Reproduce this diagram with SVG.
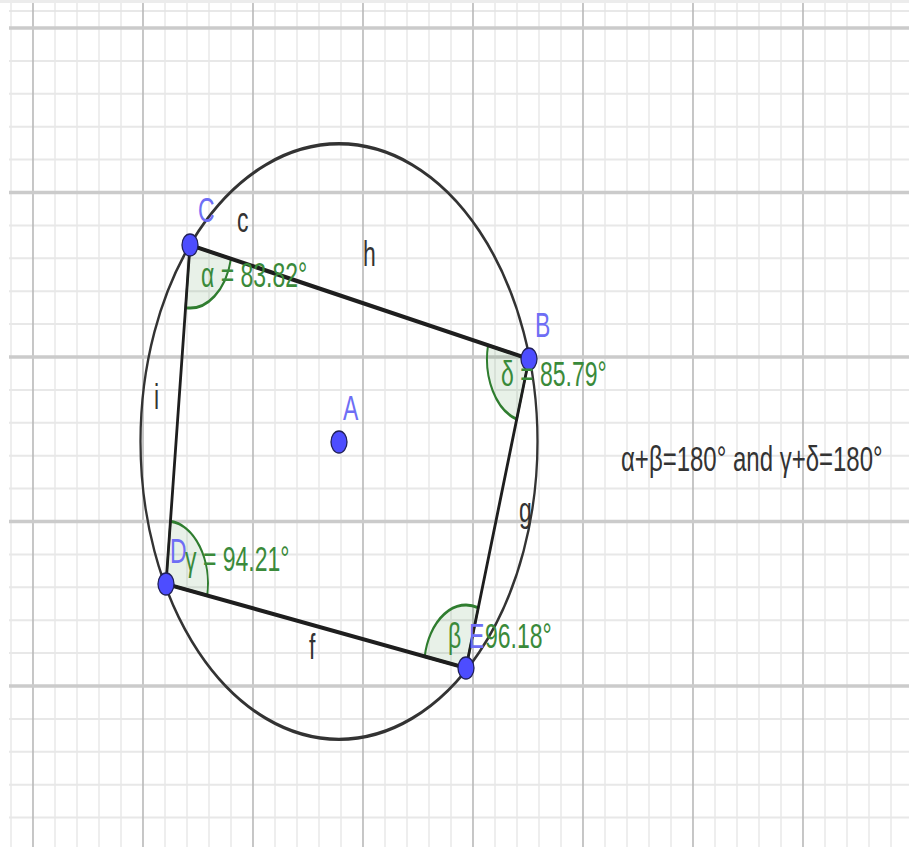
<svg xmlns="http://www.w3.org/2000/svg" width="909" height="847" viewBox="0 0 909 847">
<defs>
<style>
.minv{stroke:#e3e3e3;stroke-width:1.2;fill:none}
.minh{stroke:#e8e8e8;stroke-width:2;fill:none}
.majv{stroke:#b9b9b9;stroke-width:1.6;fill:none}
.majh{stroke:#cbcbcb;stroke-width:3.5;fill:none}
.seg{stroke:#1e1e1e;stroke-width:2.8;fill:none;stroke-linecap:round}
.circ{stroke:#333333;stroke-width:2.3;fill:none}
.sector{fill:#006400;fill-opacity:0.09;stroke:#2f7d2f;stroke-width:2}
.pt{fill:#4d4dff;stroke:#20205a;stroke-width:1.3}
.t{font-family:"Liberation Sans",Arial,sans-serif;font-size:23px}
.big{font-size:24px}
.plab{fill:#6e6ef5}
.slab{fill:#333333}
.alab{fill:#3a8a3a}
.note{fill:#333333}
</style>
</defs>
<rect width="909" height="847" fill="#ffffff"/>
<rect width="909" height="3" fill="#ececec"/>
<g id="grid">
<path class="minh" d="M9 11H909"/>
<path class="minv" d="M11 3V847M55 3V847M77 3V847M99 3V847M121 3V847M165 3V847M187 3V847M209 3V847M231 3V847M275 3V847M297 3V847M319 3V847M341 3V847M385 3V847M407 3V847M429 3V847M451 3V847M495 3V847M517 3V847M539 3V847M561 3V847M605 3V847M627 3V847M649 3V847M671 3V847M715 3V847M737 3V847M759 3V847M781 3V847M825 3V847M847 3V847M869 3V847M891 3V847"/>
<path class="minh" d="M9 60.9H909M9 93.8H909M9 126.7H909M9 159.6H909M9 225.4H909M9 258.3H909M9 291.2H909M9 324.1H909M9 389.9H909M9 422.8H909M9 455.7H909M9 488.6H909M9 554.4H909M9 587.3H909M9 620.2H909M9 653.1H909M9 718.9H909M9 751.8H909M9 784.7H909M9 817.6H909"/>
<path class="majv" d="M33 3V847M143 3V847M253 3V847M363 3V847M473 3V847M583 3V847M693 3V847M803 3V847"/>
<path class="majh" d="M9 28H909M9 192.5H909M9 357H909M9 521.5H909M9 686H909"/>
</g>
<g id="circle-h" transform="scale(1 1.5)">
<circle class="circ" cx="339" cy="294.4" r="198.5"/>
</g>
<g id="angles" transform="scale(1 1.5)">
<path id="angle-alpha" class="sector" d="M190 163.33L230.98 172.52A42 42 0 0 1 185.56 205.09Z"/>
<path id="angle-delta" class="sector" d="M529 239.33L516.72 279.49A42 42 0 0 1 488.02 230.14Z"/>
<path id="angle-beta" class="sector" d="M466 445.33L424.71 437.62A42 42 0 0 1 478.29 405.17Z"/>
<path id="angle-gamma" class="sector" d="M166 389.33L170.44 347.57A42 42 0 0 1 207.29 397.04Z"/>
</g>
<g id="connectors" transform="scale(1 1.5)">
<line id="seg-c" class="seg" x1="190" y1="163.33" x2="529" y2="239.33"/>
<line id="seg-g" class="seg" x1="529" y1="239.33" x2="466" y2="445.33"/>
<line id="seg-f" class="seg" x1="466" y1="445.33" x2="166" y2="389.33"/>
<line id="seg-i" class="seg" x1="166" y1="389.33" x2="190" y2="163.33"/>
</g>
<g id="node-C"><ellipse class="pt" cx="190" cy="245" rx="8" ry="11"/><text class="t plab" transform="translate(198 222) scale(1 1.5)">C</text></g>
<g id="node-B"><ellipse class="pt" cx="529" cy="359" rx="8" ry="11"/><text class="t plab" transform="translate(535 337) scale(1 1.5)">B</text></g>
<g id="node-E"><ellipse class="pt" cx="466" cy="668" rx="8" ry="11"/></g>
<g id="node-D"><ellipse class="pt" cx="166" cy="584" rx="8" ry="11"/></g>
<g id="node-A"><ellipse class="pt" cx="339" cy="442" rx="8" ry="11"/><text class="t plab" transform="translate(343 420) scale(1 1.5)">A</text></g>
<g id="labels">
<text class="t slab" transform="translate(237 232) scale(1 1.5)">c</text>
<text class="t slab" transform="translate(363 266) scale(1 1.5)">h</text>
<text class="t slab" transform="translate(154 409) scale(1 1.5)">i</text>
<text class="t slab" transform="translate(519 522) scale(1 1.5)">g</text>
<text class="t slab" transform="translate(309 659) scale(1 1.5)">f</text>
<text class="t alab" transform="translate(201 287) scale(1 1.5)">α = 83.82°</text>
<text class="t alab" transform="translate(501 386) scale(1 1.5)">δ = 85.79°</text>
<text class="t alab" transform="translate(185 571) scale(1 1.5)">γ = 94.21°</text>
<text class="t plab" transform="translate(170 563) scale(1 1.5)">D</text>
<text class="t alab" transform="translate(448 648) scale(1 1.5)">β</text>
<text class="t alab" transform="translate(485 648) scale(1 1.5)">96.18°</text>
<text class="t plab" transform="translate(469 648) scale(1 1.5)">E</text>
</g>
<g id="note">
<text class="t big note" transform="translate(621 471) scale(1 1.5)">α+β=180° and γ+δ=180°</text>
</g>
</svg>
